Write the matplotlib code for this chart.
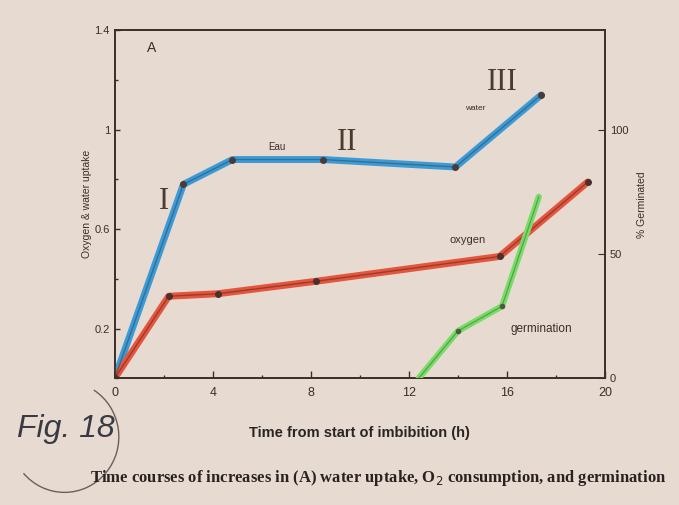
import matplotlib
matplotlib.use('Agg')
import matplotlib.pyplot as plt
from matplotlib.patches import Arc
from matplotlib.ticker import MultipleLocator

# --- data ---
water_t = [0, 2.8, 4.8, 8.5, 13.9, 17.4]
water_v = [0, 0.78, 0.88, 0.88, 0.85, 1.14]

oxygen_t = [0, 2.2, 4.2, 8.2, 15.7, 19.3]
oxygen_v = [0, 0.33, 0.34, 0.39, 0.49, 0.79]

germ_t = [12.4, 14.0, 15.8, 17.3]
germ_pct = [0, 19, 29, 73]

x_ticks = [0, 4, 8, 12, 16, 20]
left_ticks = [0.2, 0.6, 1.0, 1.4]
left_labels = ['0.2', '0.6', '1', '1.4']
right_ticks = [0, 50, 100]

BG = '#e7dbd1'
INK = '#3b2e2a'

plt.rcParams['font.family'] = ['Liberation Sans', 'DejaVu Sans']

fig = plt.figure(figsize=(6.79, 5.05), dpi=100, facecolor=BG)
ax = fig.add_axes([0.169, 0.251, 0.722, 0.689], facecolor=BG)

# thick coloured strokes with a thin dark core, as in the printed figure
ax.plot(water_t, water_v, color='#3c9ad6', lw=5, solid_capstyle='round', zorder=3)
ax.plot(water_t, water_v, color='#2d5466', lw=1.0, alpha=0.6, zorder=4)
ax.plot(water_t, water_v, 'o', color='#4b3a3a', ms=4, zorder=5)

ax.plot(oxygen_t, oxygen_v, color='#e4553d', lw=5, solid_capstyle='round', zorder=3)
ax.plot(oxygen_t, oxygen_v, color='#6a2a22', lw=1.0, alpha=0.6, zorder=4)
ax.plot(oxygen_t, oxygen_v, 'o', color='#4b3030', ms=4, zorder=5)

ax2 = ax.twinx()
ax2.plot(germ_t, germ_pct, color='#79dc68', lw=4.5, solid_capstyle='round', zorder=3)
ax2.plot(germ_t, germ_pct, color='#3f7a3a', lw=0.9, alpha=0.6, zorder=4)
ax2.plot(germ_t[1:3], germ_pct[1:3], 'o', color='#4a5a40', ms=3, zorder=5)

ax.set_xlim(0, 20)
ax.set_ylim(0, 1.4)
ax2.set_ylim(0, 140)

ax.set_xticks(x_ticks)
ax.xaxis.set_minor_locator(MultipleLocator(2))
ax.set_yticks(left_ticks)
ax.set_yticklabels(left_labels)
ax.yaxis.set_minor_locator(MultipleLocator(0.2))
ax2.set_yticks(right_ticks)

ax.tick_params(axis='both', which='both', direction='in', colors=INK,
               labelsize=8, width=1)
ax.tick_params(axis='x', which='major', length=5, pad=6, labelsize=9)
ax.tick_params(axis='y', which='minor', length=2)
ax2.tick_params(axis='y', direction='in', colors=INK, labelsize=8, length=5)

for a in (ax, ax2):
    for sp in a.spines.values():
        sp.set_color(INK)
        sp.set_linewidth(1.2)

ax.set_xlabel('Time from start of imbibition (h)', fontsize=10.5,
              fontweight='bold', color='#2a2424', labelpad=20)
ax.set_ylabel('Oxygen & water uptake', fontsize=7.5, color=INK, labelpad=2)
ax2.set_ylabel('% Germinated', fontsize=7.5, color=INK, labelpad=6)

# annotations inside the plot
ax.text(1.3, 1.33, 'A', fontsize=10, color=INK, va='center')
roman = dict(family=['Liberation Serif', 'DejaVu Serif'], fontsize=22,
             color='#4c3a2e', va='center', ha='center')
ax.text(2.0, 0.71, 'I', **roman)
ax.text(9.5, 0.95, 'II', **roman)
ax.text(15.8, 1.19, 'III', **roman)
ax.text(14.7, 1.085, 'water', fontsize=6, color=INK, ha='center', va='center')
ax.text(6.6, 0.93, 'Eau', fontsize=7, color=INK, ha='center', va='center')
ax.text(14.4, 0.555, 'oxygen', fontsize=8, color=INK, ha='center', va='center')
ax.text(17.4, 0.20, 'germination', fontsize=8.5, color=INK, ha='center', va='center')

# figure label and caption
fig.text(0.025, 0.15, 'Fig. 18', fontsize=23, color='#3a3a44', va='center',
         style='italic')
fig.add_artist(Arc((0.095, 0.135), 0.16, 0.22, theta1=-130, theta2=65,
                   transform=fig.transFigure, color='#6a5f5a', lw=1.0))
fig.text(0.133, 0.053,
         'Time courses of increases in (A) water uptake, O$_2$ consumption, and germination',
         fontsize=12, fontweight='bold', color='#2a2222', va='center',
         family=['Liberation Serif', 'DejaVu Serif'])

fig.savefig('out.png', dpi=100, facecolor=BG)
